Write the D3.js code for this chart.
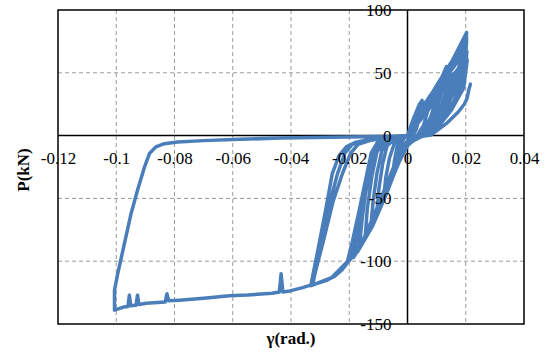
<!DOCTYPE html>
<html>
<head>
<meta charset="utf-8">
<script src="https://cdn.jsdelivr.net/npm/d3@7"></script>
<style>
  body { margin: 0; background: #fff; }
  svg { display: block; }
</style>
</head>
<body>
<svg id="chart" width="547" height="353"></svg>
<script>
// axis ticks
const xTicks = [-0.12, -0.1, -0.08, -0.06, -0.04, -0.02, 0, 0.02, 0.04];
const yTicks = [100, 50, 0, -50, -100, -150];

// hysteresis loops, [gamma (rad), P (kN)] in load order
const cycle1 = [[0,0],[0.0012,7],[0.0025,14],[0.003,16],[0.0024,8],[0.0012,0],[0,-4],[-0.0015,-9],[-0.003,-17],[-0.0025,-9],[-0.0012,-2],[0,0]];
const cycle2 = [[0.0018,12],[0.0041,25],[0.005,28],[0.0043,17],[0.003,5],[0.0015,-1],[0,-5],[-0.0025,-15],[-0.005,-30],[-0.0045,-20],[-0.0035,-8],[-0.002,-2],[0,0]];
const cycle3 = [[0.002,10],[0.005,24],[0.0076,30],[0.007,20],[0.0055,8],[0.003,-1],[0,-5],[-0.004,-22],[-0.008,-46],[-0.0075,-34],[-0.0062,-18],[-0.0045,-6],[-0.002,-1],[0,0]];
const cycle4 = [[0.003,12],[0.007,28],[0.0104,39],[0.0098,28],[0.008,15],[0.0055,4],[0.002,-2],[-0.002,-9],[-0.006,-33],[-0.0105,-60],[-0.0098,-42],[-0.0085,-22],[-0.007,-8],[-0.004,-2],[0,0]];
const cycle5 = [[0.003,13],[0.0075,31],[0.0104,39],[0.0134,55],[0.0128,42],[0.011,28],[0.008,12],[0.005,2],[0.002,-3],[-0.001,-7],[-0.006,-34],[-0.0125,-70],[-0.0118,-52],[-0.0105,-30],[-0.0088,-12],[-0.006,-3],[-0.002,-1],[0,0]];
const cycle6 = [[0.004,14],[0.009,34],[0.015,57],[0.0142,42],[0.012,26],[0.0085,10],[0.005,1],[0.002,-3],[-0.002,-10],[-0.007,-40],[-0.0145,-80],[-0.0138,-58],[-0.0122,-32],[-0.0105,-13],[-0.0075,-3],[-0.003,-1],[0,0]];
const cycle7 = [[0.004,18],[0.009,36],[0.015,58],[0.0203,82],[0.0199,70],[0.017,50],[0.013,30],[0.009,12],[0.005,1],[0.002,-3],[-0.002,-10],[-0.008,-46],[-0.0135,-76],[-0.0165,-88],[-0.0155,-65],[-0.0138,-35],[-0.0122,-14],[-0.009,-4],[-0.004,-1],[0,0]];
const cycle8 = [[0.004,16],[0.01,40],[0.016,62],[0.0203,78],[0.02,64],[0.0175,48],[0.0135,30],[0.0095,12],[0.0055,1],[0.002,-3],[-0.002,-11],[-0.0055,-30],[-0.0141,-80],[-0.0175,-93],[-0.0206,-100],[-0.0182,-80],[-0.016,-55],[-0.0137,-30],[-0.0125,-14],[-0.0102,-5],[-0.0062,-1],[0,0]];
const cycle9 = [[0.005,17],[0.012,45],[0.018,66],[0.0203,75],[0.0197,58],[0.017,42],[0.013,24],[0.009,9],[0.005,0],[0.001,-5],[-0.003,-18],[-0.008,-48],[-0.013,-75],[-0.017,-91],[-0.0195,-98],[-0.0178,-78],[-0.0155,-50],[-0.0132,-26],[-0.0115,-12],[-0.009,-4],[-0.005,-1],[0,0]];
const cycle10 = [[0.004,15],[0.011,42],[0.02,70],[0.0195,55],[0.0165,38],[0.012,20],[0.008,6],[0.004,-1],[0,-6],[-0.004,-24],[-0.0055,-30],[-0.01,-57],[-0.0141,-80],[-0.0185,-96],[-0.0206,-100],[-0.019,-85],[-0.0168,-62],[-0.0148,-40],[-0.013,-20],[-0.011,-8],[-0.007,-2],[0,0]];
const cycle11 = [[0.005,16],[0.012,44],[0.0202,72],[0.0196,56],[0.0168,40],[0.0125,22],[0.0085,7],[0.0045,-1],[0.0005,-6],[-0.004,-26],[-0.0085,-52],[-0.013,-76],[-0.017,-92],[-0.0204,-100],[-0.0185,-82],[-0.0162,-57],[-0.0142,-35],[-0.0127,-17],[-0.0105,-6],[-0.0065,-1.5],[0,0]];
const cycle12 = [[0.0045,20],[0.0085,33],[0.0125,48],[0.0185,70],[0.018,55],[0.0155,38],[0.0115,20],[0.0075,6],[0.0035,-2],[-0.0005,-8],[-0.0045,-30],[-0.0095,-58],[-0.0135,-78],[-0.0185,-97],[-0.0172,-80],[-0.0152,-55],[-0.0128,-28],[-0.011,-12],[-0.008,-3],[0,0]];
const cycle13 = [[0.005,22],[0.0095,37],[0.0145,54],[0.0195,74],[0.019,58],[0.016,40],[0.012,22],[0.008,8],[0.0035,-1],[0,-7],[-0.0035,-24],[-0.0075,-48],[-0.012,-72],[-0.0165,-90],[-0.0198,-99],[-0.018,-84],[-0.0158,-60],[-0.0135,-34],[-0.012,-16],[-0.0095,-5],[-0.005,-1],[0,0]];
const cycle14 = [[0.005,18],[0.011,40],[0.017,58],[0.0204,67],[0.0198,52],[0.0165,36],[0.012,18],[0.0075,5],[0.004,-1],[0.001,-4],[-0.003,-16],[-0.008,-44],[-0.0145,-80],[-0.018,-94],[-0.0205,-101],[-0.0225,-107],[-0.025,-112],[-0.028,-115.5],[-0.0328,-119],[-0.029,-85],[-0.0255,-52],[-0.0223,-30],[-0.0195,-14],[-0.017,-7],[-0.013,-4],[-0.007,-1.5],[0,0]];
const cycle15 = [[0.006,20],[0.012,40],[0.0205,60],[0.0196,44],[0.016,28],[0.011,11],[0.0065,2],[0.003,-2],[-0.002,-12],[-0.009,-50],[-0.015,-83],[-0.0205,-100],[-0.025,-112],[-0.0326,-119],[-0.0295,-85],[-0.0265,-52],[-0.024,-30],[-0.0215,-14],[-0.019,-7],[-0.0145,-4],[-0.008,-1.5],[0,0]];
const cycle16 = [[0.005,14],[0.011,32],[0.0202,55],[0.0193,38],[0.015,20],[0.0105,7],[0.006,0],[0.002,-3],[-0.003,-15],[-0.01,-55],[-0.016,-87],[-0.0205,-100],[-0.026,-113],[-0.0332,-119.5],[-0.0305,-88],[-0.028,-58],[-0.0258,-30],[-0.0235,-16],[-0.021,-9],[-0.018,-5.5],[-0.014,-3.5],[-0.007,-1],[0,0]];
const bigCycle = [[0.005,15],[0.011,34],[0.0203,62],[0.0195,45],[0.0155,25],[0.011,9],[0.0065,1],[0.0025,-3],[-0.002,-12],[-0.009,-50],[-0.015,-83],[-0.0205,-100],
  [-0.0225,-107],[-0.025,-112],[-0.028,-115.5],[-0.0325,-118.5],[-0.036,-121],[-0.041,-124],[-0.0428,-124.5],[-0.0434,-110],[-0.044,-124.5],[-0.0465,-125.5],
  [-0.055,-127],[-0.0611,-127.5],[-0.07,-129.5],[-0.0783,-131],[-0.082,-131.5],[-0.0826,-126],[-0.0832,-132.5],[-0.0897,-133.5],[-0.0922,-134.5],[-0.0927,-127],
  [-0.0932,-135],[-0.095,-135.5],[-0.0955,-127],[-0.096,-136],[-0.0975,-136.5],[-0.1006,-139],
  [-0.1006,-123],[-0.0995,-110],[-0.0972,-86],[-0.0949,-62],[-0.0927,-43.5],[-0.0903,-25],[-0.0886,-14.3],[-0.0864,-9],[-0.0835,-6.4],[-0.0789,-5.1],
  [-0.07,-4],[-0.06,-3.2],[-0.044,-1.9],[-0.02,-1.1],[-0.005,-0.5],[0,0]];
const finalLoad = [[0.004,-1],[0.008,0.5],[0.0133,9.5],[0.0175,19],[0.0195,25],[0.0205,30],[0.021,36],[0.0216,41]];

const series = [].concat(cycle1, cycle2, cycle3, cycle4, cycle5, cycle6, cycle7, cycle8, cycle9,
  cycle10, cycle11, cycle12, cycle13, cycle14, cycle15, cycle16, bigCycle, finalLoad);

const svg = d3.select("#chart");
const plotL = 58, plotR = 524, plotT = 10, plotB = 324;

const x = d3.scaleLinear().domain([-0.12, 0.04]).range([plotL, plotR]);
const y = d3.scaleLinear().domain([-150, 100]).range([plotB, plotT]);

const font = "Liberation Serif";

// grid
svg.append("g")
  .selectAll("line")
  .data(xTicks.filter(d => d !== 0 && d > -0.12 && d < 0.04))
  .join("line")
  .attr("x1", d => x(d)).attr("x2", d => x(d))
  .attr("y1", plotT).attr("y2", plotB)
  .attr("stroke", "#9a9a9a").attr("stroke-width", 1).attr("stroke-dasharray", "4,3");

svg.append("g")
  .selectAll("line")
  .data(yTicks.filter(d => d !== 0 && d < 100 && d > -150))
  .join("line")
  .attr("x1", plotL).attr("x2", plotR)
  .attr("y1", d => y(d)).attr("y2", d => y(d))
  .attr("stroke", "#9a9a9a").attr("stroke-width", 1).attr("stroke-dasharray", "4,3");

// plot border
svg.append("rect")
  .attr("x", plotL).attr("y", plotT)
  .attr("width", plotR - plotL).attr("height", plotB - plotT)
  .attr("fill", "none").attr("stroke", "#000").attr("stroke-width", 1.5);

// zero axes
svg.append("line")
  .attr("x1", plotL).attr("x2", plotR).attr("y1", y(0)).attr("y2", y(0))
  .attr("stroke", "#000").attr("stroke-width", 1.5);
svg.append("line")
  .attr("x1", x(0)).attr("x2", x(0)).attr("y1", plotT).attr("y2", plotB)
  .attr("stroke", "#000").attr("stroke-width", 1.5);

// data
const line = d3.line().x(d => x(d[0])).y(d => y(d[1]));
svg.append("path")
  .datum(series)
  .attr("d", line)
  .attr("fill", "none")
  .attr("stroke", "#4a7ebb")
  .attr("stroke-width", 3.5)
  .attr("stroke-linejoin", "round")
  .attr("stroke-linecap", "round");

// tick labels
const xAxis = svg.append("g")
  .attr("transform", `translate(0,${y(0)})`)
  .call(d3.axisBottom(x).tickValues(xTicks).tickSize(0).tickPadding(16).tickFormat(d => String(d)));
xAxis.attr("font-family", font).attr("font-size", 17);
xAxis.select(".domain").remove();
xAxis.selectAll("text").attr("fill", "#000");

const yAxis = svg.append("g")
  .attr("transform", `translate(${x(0)},0)`)
  .call(d3.axisLeft(y).tickValues(yTicks).tickSize(0).tickPadding(16).tickFormat(d => String(d)));
yAxis.attr("font-family", font).attr("font-size", 17);
yAxis.select(".domain").remove();
yAxis.selectAll("text").attr("fill", "#000");

// titles
svg.append("text")
  .attr("x", 291).attr("y", 344)
  .attr("text-anchor", "middle")
  .attr("font-family", font).attr("font-size", 17).attr("font-weight", "bold")
  .text("γ(rad.)");

svg.append("text")
  .attr("transform", "translate(29,170) rotate(-90)")
  .attr("text-anchor", "middle")
  .attr("font-family", font).attr("font-size", 17).attr("font-weight", "bold")
  .text("P(kN)");
</script>
</body>
</html>
